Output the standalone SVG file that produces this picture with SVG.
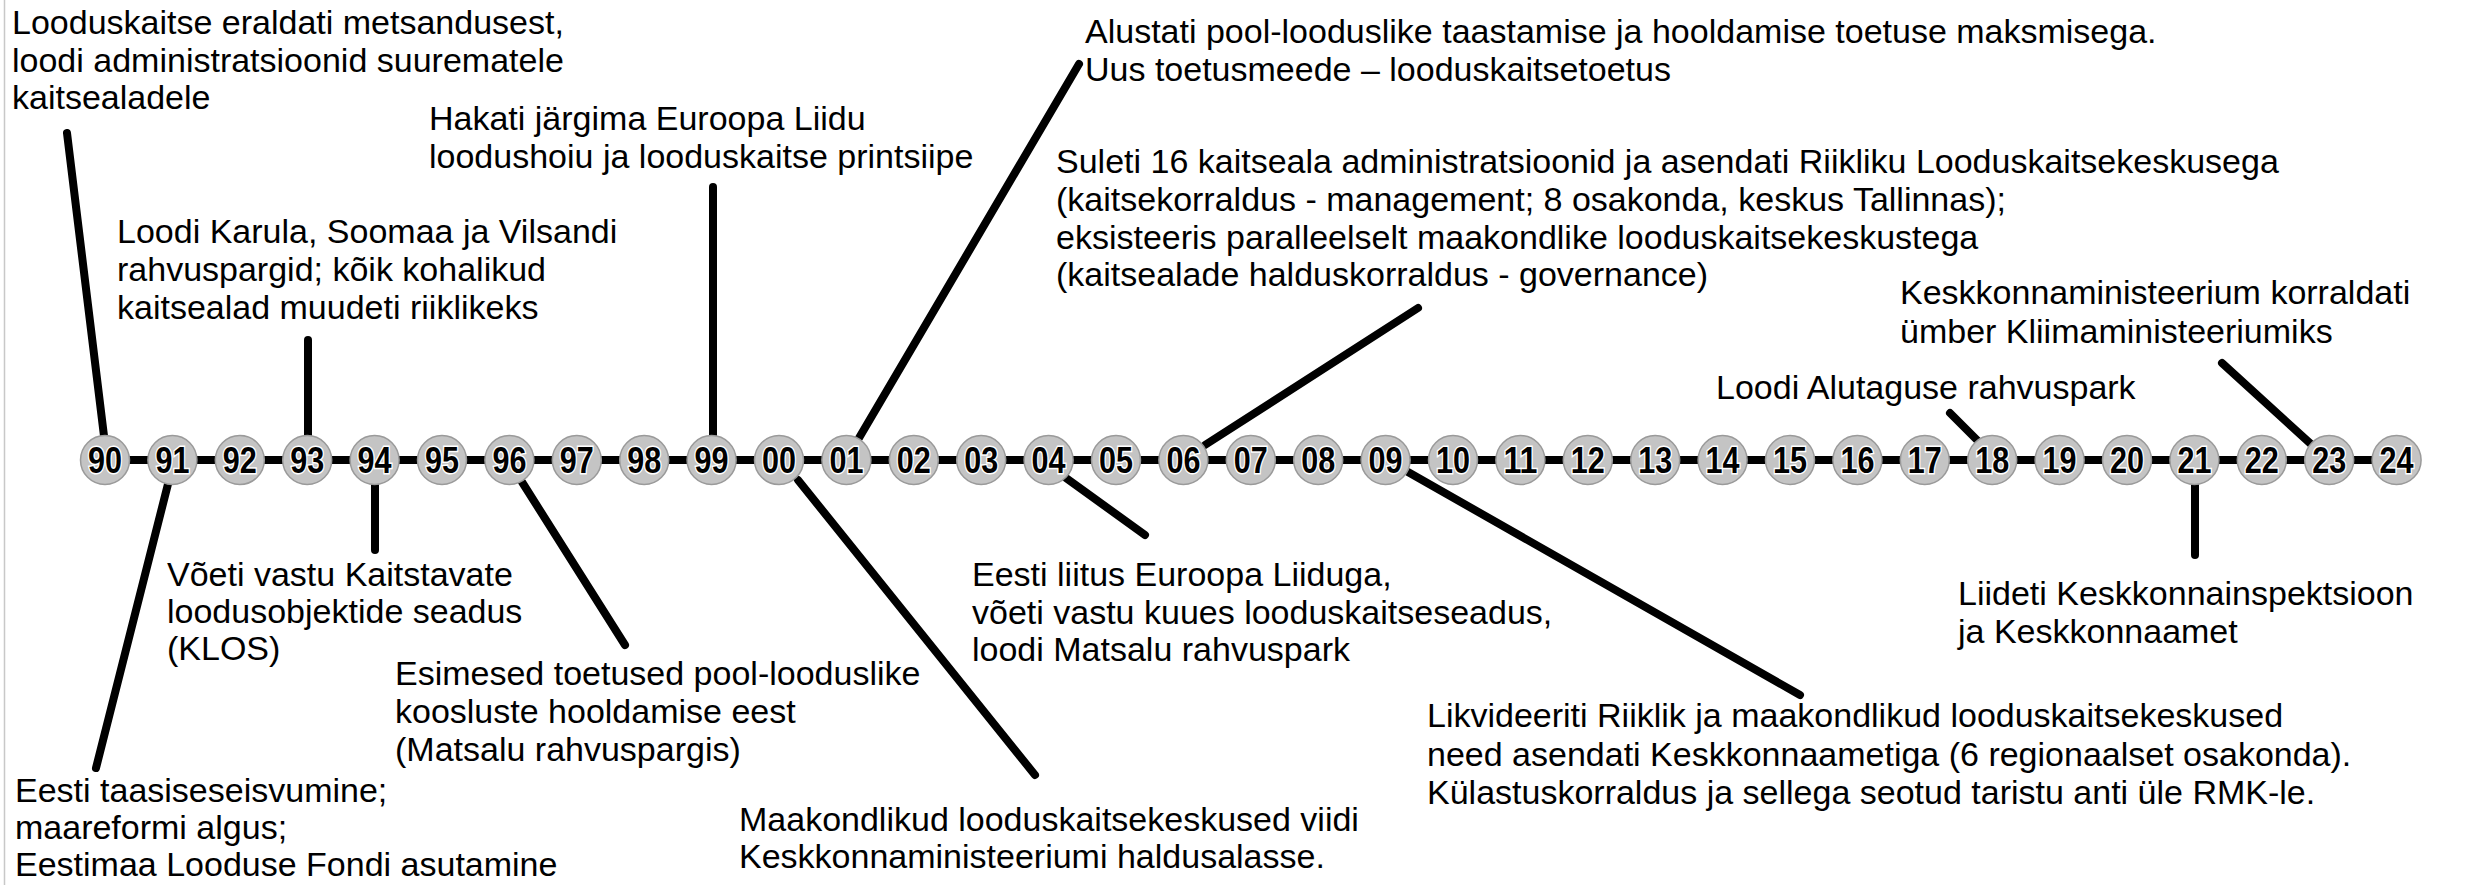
<svg xmlns="http://www.w3.org/2000/svg" width="2471" height="885" viewBox="0 0 2471 885">
<style>
.t{font-family:"Liberation Sans",Arial,sans-serif;font-size:34px;fill:#000}
.c{stroke:#000;stroke-width:8;stroke-linecap:round;fill:none}
.yr circle{fill:#c4c4c4;stroke:#9a9a9a;stroke-width:1.5}
.yr text{font-family:"Liberation Sans",Arial,sans-serif;font-weight:bold;font-size:37px;fill:#000;stroke:#fff;stroke-width:3;paint-order:stroke;text-anchor:middle}
</style>
<rect width="2471" height="885" fill="#fff"/>
<line x1="4.5" y1="0" x2="4.5" y2="885" stroke="#c8c8c8" stroke-width="1.5"/>
<g id="connectors">
<line class="c" x1="105" y1="460" x2="2397" y2="460"/>
<line class="c" x1="67" y1="133" x2="104" y2="436"/>
<line class="c" x1="308" y1="340" x2="308" y2="436"/>
<line class="c" x1="713" y1="187" x2="713" y2="436"/>
<line class="c" x1="1079" y1="64" x2="859" y2="438"/>
<line class="c" x1="1418" y1="308" x2="1205" y2="445"/>
<line class="c" x1="1950" y1="413" x2="1979" y2="442"/>
<line class="c" x1="2222" y1="363" x2="2312" y2="445"/>
<line class="c" x1="168" y1="484" x2="96" y2="768"/>
<line class="c" x1="375" y1="484" x2="375" y2="550"/>
<line class="c" x1="522" y1="482" x2="625" y2="645"/>
<line class="c" x1="798" y1="480" x2="1035" y2="775"/>
<line class="c" x1="1066" y1="478" x2="1145" y2="535"/>
<line class="c" x1="1408" y1="472" x2="1800" y2="695"/>
<line class="c" x1="2195" y1="484" x2="2195" y2="555"/>
</g>
<g class="yr">
<g id="y90"><circle cx="105" cy="460" r="24.5"/><text x="105" y="473" textLength="34" lengthAdjust="spacingAndGlyphs">90</text></g>
<g id="y91"><circle cx="172.4" cy="460" r="24.5"/><text x="172.4" y="473" textLength="34" lengthAdjust="spacingAndGlyphs">91</text></g>
<g id="y92"><circle cx="239.8" cy="460" r="24.5"/><text x="239.8" y="473" textLength="34" lengthAdjust="spacingAndGlyphs">92</text></g>
<g id="y93"><circle cx="307.2" cy="460" r="24.5"/><text x="307.2" y="473" textLength="34" lengthAdjust="spacingAndGlyphs">93</text></g>
<g id="y94"><circle cx="374.6" cy="460" r="24.5"/><text x="374.6" y="473" textLength="34" lengthAdjust="spacingAndGlyphs">94</text></g>
<g id="y95"><circle cx="442" cy="460" r="24.5"/><text x="442" y="473" textLength="34" lengthAdjust="spacingAndGlyphs">95</text></g>
<g id="y96"><circle cx="509.4" cy="460" r="24.5"/><text x="509.4" y="473" textLength="34" lengthAdjust="spacingAndGlyphs">96</text></g>
<g id="y97"><circle cx="576.8" cy="460" r="24.5"/><text x="576.8" y="473" textLength="34" lengthAdjust="spacingAndGlyphs">97</text></g>
<g id="y98"><circle cx="644.2" cy="460" r="24.5"/><text x="644.2" y="473" textLength="34" lengthAdjust="spacingAndGlyphs">98</text></g>
<g id="y99"><circle cx="711.6" cy="460" r="24.5"/><text x="711.6" y="473" textLength="34" lengthAdjust="spacingAndGlyphs">99</text></g>
<g id="y00"><circle cx="779" cy="460" r="24.5"/><text x="779" y="473" textLength="34" lengthAdjust="spacingAndGlyphs">00</text></g>
<g id="y01"><circle cx="846.4" cy="460" r="24.5"/><text x="846.4" y="473" textLength="34" lengthAdjust="spacingAndGlyphs">01</text></g>
<g id="y02"><circle cx="913.8" cy="460" r="24.5"/><text x="913.8" y="473" textLength="34" lengthAdjust="spacingAndGlyphs">02</text></g>
<g id="y03"><circle cx="981.2" cy="460" r="24.5"/><text x="981.2" y="473" textLength="34" lengthAdjust="spacingAndGlyphs">03</text></g>
<g id="y04"><circle cx="1048.6" cy="460" r="24.5"/><text x="1048.6" y="473" textLength="34" lengthAdjust="spacingAndGlyphs">04</text></g>
<g id="y05"><circle cx="1116" cy="460" r="24.5"/><text x="1116" y="473" textLength="34" lengthAdjust="spacingAndGlyphs">05</text></g>
<g id="y06"><circle cx="1183.4" cy="460" r="24.5"/><text x="1183.4" y="473" textLength="34" lengthAdjust="spacingAndGlyphs">06</text></g>
<g id="y07"><circle cx="1250.8" cy="460" r="24.5"/><text x="1250.8" y="473" textLength="34" lengthAdjust="spacingAndGlyphs">07</text></g>
<g id="y08"><circle cx="1318.2" cy="460" r="24.5"/><text x="1318.2" y="473" textLength="34" lengthAdjust="spacingAndGlyphs">08</text></g>
<g id="y09"><circle cx="1385.6" cy="460" r="24.5"/><text x="1385.6" y="473" textLength="34" lengthAdjust="spacingAndGlyphs">09</text></g>
<g id="y10"><circle cx="1453" cy="460" r="24.5"/><text x="1453" y="473" textLength="34" lengthAdjust="spacingAndGlyphs">10</text></g>
<g id="y11"><circle cx="1520.4" cy="460" r="24.5"/><text x="1520.4" y="473" textLength="34" lengthAdjust="spacingAndGlyphs">11</text></g>
<g id="y12"><circle cx="1587.8" cy="460" r="24.5"/><text x="1587.8" y="473" textLength="34" lengthAdjust="spacingAndGlyphs">12</text></g>
<g id="y13"><circle cx="1655.2" cy="460" r="24.5"/><text x="1655.2" y="473" textLength="34" lengthAdjust="spacingAndGlyphs">13</text></g>
<g id="y14"><circle cx="1722.6" cy="460" r="24.5"/><text x="1722.6" y="473" textLength="34" lengthAdjust="spacingAndGlyphs">14</text></g>
<g id="y15"><circle cx="1790" cy="460" r="24.5"/><text x="1790" y="473" textLength="34" lengthAdjust="spacingAndGlyphs">15</text></g>
<g id="y16"><circle cx="1857.4" cy="460" r="24.5"/><text x="1857.4" y="473" textLength="34" lengthAdjust="spacingAndGlyphs">16</text></g>
<g id="y17"><circle cx="1924.8" cy="460" r="24.5"/><text x="1924.8" y="473" textLength="34" lengthAdjust="spacingAndGlyphs">17</text></g>
<g id="y18"><circle cx="1992.2" cy="460" r="24.5"/><text x="1992.2" y="473" textLength="34" lengthAdjust="spacingAndGlyphs">18</text></g>
<g id="y19"><circle cx="2059.6" cy="460" r="24.5"/><text x="2059.6" y="473" textLength="34" lengthAdjust="spacingAndGlyphs">19</text></g>
<g id="y20"><circle cx="2127" cy="460" r="24.5"/><text x="2127" y="473" textLength="34" lengthAdjust="spacingAndGlyphs">20</text></g>
<g id="y21"><circle cx="2194.4" cy="460" r="24.5"/><text x="2194.4" y="473" textLength="34" lengthAdjust="spacingAndGlyphs">21</text></g>
<g id="y22"><circle cx="2261.8" cy="460" r="24.5"/><text x="2261.8" y="473" textLength="34" lengthAdjust="spacingAndGlyphs">22</text></g>
<g id="y23"><circle cx="2329.2" cy="460" r="24.5"/><text x="2329.2" y="473" textLength="34" lengthAdjust="spacingAndGlyphs">23</text></g>
<g id="y24"><circle cx="2396.6" cy="460" r="24.5"/><text x="2396.6" y="473" textLength="34" lengthAdjust="spacingAndGlyphs">24</text></g>
</g>
<g id="ev1990" class="t"><text x="12" y="34">Looduskaitse eraldati metsandusest,</text><text x="12" y="72">loodi administratsioonid suurematele</text><text x="12" y="109">kaitsealadele</text></g>
<g id="ev1993" class="t"><text x="117" y="243">Loodi Karula, Soomaa ja Vilsandi</text><text x="117" y="281">rahvuspargid; kõik kohalikud</text><text x="117" y="319">kaitsealad muudeti riiklikeks</text></g>
<g id="ev1999" class="t"><text x="429" y="130">Hakati järgima Euroopa Liidu</text><text x="429" y="168">loodushoiu ja looduskaitse printsiipe</text></g>
<g id="ev2001" class="t"><text x="1085" y="43">Alustati pool-looduslike taastamise ja hooldamise toetuse maksmisega.</text><text x="1085" y="81">Uus toetusmeede – looduskaitsetoetus</text></g>
<g id="ev2006" class="t"><text x="1056" y="173">Suleti 16 kaitseala administratsioonid ja asendati Riikliku Looduskaitsekeskusega</text><text x="1056" y="211">(kaitsekorraldus - management; 8 osakonda, keskus Tallinnas);</text><text x="1056" y="249">eksisteeris paralleelselt maakondlike looduskaitsekeskustega</text><text x="1056" y="286">(kaitsealade halduskorraldus - governance)</text></g>
<g id="ev2023" class="t"><text x="1900" y="304">Keskkonnaministeerium korraldati</text><text x="1900" y="343">ümber Kliimaministeeriumiks</text></g>
<g id="ev2018" class="t"><text x="1716" y="399">Loodi Alutaguse rahvuspark</text></g>
<g id="ev1991" class="t"><text x="15" y="802">Eesti taasiseseisvumine;</text><text x="15" y="839">maareformi algus;</text><text x="15" y="876">Eestimaa Looduse Fondi asutamine</text></g>
<g id="ev1994" class="t"><text x="167" y="586">Võeti vastu Kaitstavate</text><text x="167" y="623">loodusobjektide seadus</text><text x="167" y="660">(KLOS)</text></g>
<g id="ev1996" class="t"><text x="395" y="685">Esimesed toetused pool-looduslike</text><text x="395" y="723">koosluste hooldamise eest</text><text x="395" y="761">(Matsalu rahvuspargis)</text></g>
<g id="ev2000" class="t"><text x="739" y="831">Maakondlikud looduskaitsekeskused viidi</text><text x="739" y="868">Keskkonnaministeeriumi haldusalasse.</text></g>
<g id="ev2004" class="t"><text x="972" y="586">Eesti liitus Euroopa Liiduga,</text><text x="972" y="624">võeti vastu kuues looduskaitseseadus,</text><text x="972" y="661">loodi Matsalu rahvuspark</text></g>
<g id="ev2009" class="t"><text x="1427" y="727">Likvideeriti Riiklik ja maakondlikud looduskaitsekeskused</text><text x="1427" y="766">need asendati Keskkonnaametiga (6 regionaalset osakonda).</text><text x="1427" y="804">Külastuskorraldus ja sellega seotud taristu anti üle RMK-le.</text></g>
<g id="ev2021" class="t"><text x="1958" y="605">Liideti Keskkonnainspektsioon</text><text x="1958" y="643">ja Keskkonnaamet</text></g>
</svg>
